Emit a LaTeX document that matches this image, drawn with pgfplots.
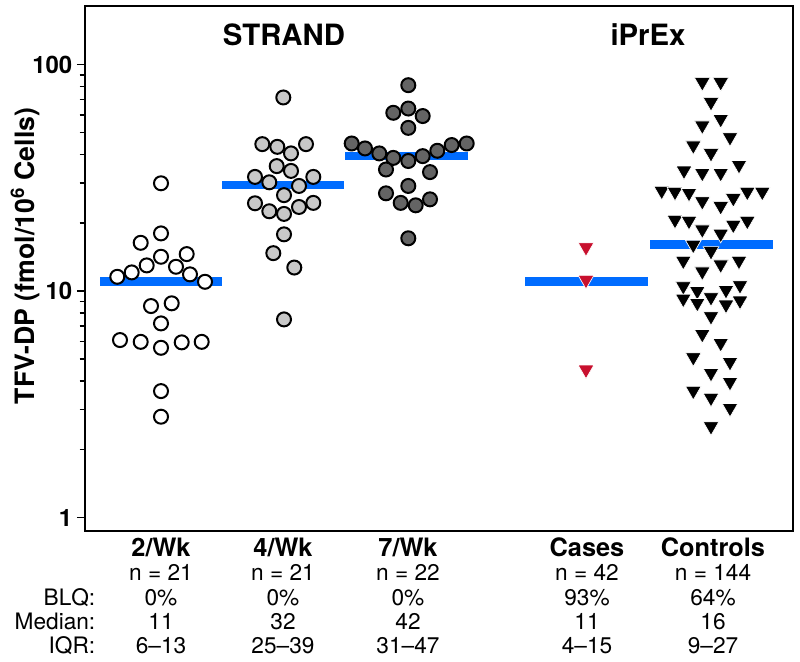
\documentclass[border=0pt]{standalone}
\usepackage{pgfplots}
\pgfplotsset{compat=1.18}
\usepackage{fontspec}
\setmainfont{TeX Gyre Heros}

\definecolor{medblue}{RGB}{0,108,255}
\definecolor{casered}{RGB}{200,16,46}
\definecolor{lgray}{RGB}{200,200,200}
\definecolor{dgray}{RGB}{100,100,100}

\begin{document}
\begin{tikzpicture}
\useasboundingbox (0,0) rectangle (600pt,495.75pt);
\begin{axis}[
    at={(63.75pt,97.7pt)}, anchor=south west,
    scale only axis,
    width=531pt, height=393.5pt,
    xmin=85, xmax=793,
    ymode=log, ymin=0.876, ymax=181,
    xtick=\empty,
    ytick={1,10,100},
    minor ytick={2,3,4,5,6,7,8,9,20,30,40,50,60,70,80,90},
    ytick pos=left,
    tick align=outside,
    major tick length=6pt,
    minor tick length=4pt,
    tick style={black, line width=1.2pt},
    axis line style={line width=1.5pt},
    log ticks with fixed point,
    /pgf/number format/assume math mode=true,
    yticklabel style={font=\bfseries\fontsize{18}{20}\selectfont},
  ]
  % median bars
  \addplot[medblue, line width=6.5pt] coordinates {(100,11.0) (222,11.0)};
  \addplot[medblue, line width=6.5pt] coordinates {(222,29.4) (344,29.4)};
  \addplot[medblue, line width=6.5pt] coordinates {(345,39.4) (468,39.4)};
  \addplot[medblue, line width=6.5pt] coordinates {(525,11.0) (648,11.0)};
  \addplot[medblue, line width=6.5pt] coordinates {(650,16.1) (773,16.1)};

  % 2/Wk
  \addplot[only marks, mark=*, mark size=5.25pt,
    mark options={fill=white, draw=black, line width=1.5pt}] coordinates {
    (161,29.9) (161,17.97) (140.7,16.33) (161,14.17) (186.7,14.56)
    (146.7,12.98) (131.7,12.09) (117.3,11.56) (176,12.80) (190,11.85)
    (205,10.99) (151,8.59) (171.7,8.83) (161,7.20) (120,6.08)
    (140.7,5.97) (161,5.62) (181.7,5.94) (201.7,5.97) (161,3.62) (161,2.79)
  };
  % 4/Wk
  \addplot[only marks, mark=*, mark size=5.25pt,
    mark options={fill=lgray, draw=black, line width=1.5pt}] coordinates {
    (283.3,71.5) (262.3,44.5) (277.3,43.3) (291,40.5) (306,44.5)
    (276.7,35.6) (291,33.9) (255,31.9) (269.3,30.2) (299,29.1)
    (313.3,31.9) (284,26.5) (255,24.4) (269.3,22.5) (284,21.9)
    (299,23.5) (313.3,24.5) (284,17.8) (273.3,14.7) (294.3,12.7) (284,7.50)
  };
  % 7/Wk
  \addplot[only marks, mark=*, mark size=5.25pt,
    mark options={fill=dgray, draw=black, line width=1.5pt}] coordinates {
    (408.3,81.0) (393.3,61.2) (408.3,63.9) (422.7,59.2) (408.3,52.5)
    (351.7,44.8) (365,42.6) (379.3,40.5) (393.3,38.7) (408.3,37.5)
    (422.7,39.4) (437.3,41.6) (451.7,44.1) (466.7,44.8) (386,34.4)
    (430,33.5) (408.3,29.1) (386,27.0) (400.7,24.5) (415.7,23.9)
    (430,25.4) (408.3,17.1)
  };
  % Cases
  \addplot[only marks, mark=triangle*, mark size=6.8pt,
    mark options={rotate=180, fill=casered, draw=white, line width=0.5pt}] coordinates {
    (586,15.6) (586,11.2) (586,4.5)
  };
  % Controls
  \addplot[only marks, mark=triangle*, mark size=6.8pt,
    mark options={rotate=180, fill=black, draw=white, line width=0.5pt}] coordinates {
    (702.3,83.5) (720.7,83.5) (711,68.2) (720.7,57.4) (702.3,53.8)
    (730,47.7) (693.3,43.9) (711,40.6) (739,36.0) (684,34.0)
    (702.3,33.2) (720.7,33.2) (661.7,27.7) (675,27.4) (689,27.1)
    (747.3,27.4) (762.3,27.4) (702.3,24.9) (720.7,23.7) (733.3,25.7)
    (675,20.6) (689,20.4) (747.3,20.4) (733.3,19.6) (702.3,18.7)
    (720.7,17.9) (693.3,16.0) (711,15.0) (683.3,13.6) (739,13.6)
    (720.7,13.1) (702.3,12.2) (683.3,10.5) (740,10.6) (697.3,10.0)
    (726,10.1) (683.3,9.25) (697.3,8.86) (711,9.38) (726,8.71)
    (740,9.07) (711,7.74) (702.3,6.46) (720.7,5.90) (693.3,5.10)
    (730,4.86) (711,4.35) (730,3.97) (693.3,3.63) (711,3.38)
    (730,3.05) (711,2.53)
  };
\end{axis}

\begin{scope}[x=0.75pt, y=-0.75pt, yshift=495.75pt]
  \node[anchor=base, font=\bfseries\fontsize{22}{26}\selectfont] at (284,46) {STRAND};
  \node[anchor=base, font=\bfseries\fontsize{22}{26}\selectfont] at (648,46) {iPrEx};
  \node[rotate=90, font=\bfseries\fontsize{20}{24}\selectfont] at (25,256)
    {TFV-DP (fmol/10\textsuperscript{6} Cells)};

  \begin{scope}[every node/.style={anchor=base, font=\fontsize{17}{20}\selectfont}]
    \foreach \x/\name/\n/\blq/\med/\iqr in {
        161/2\slash Wk/21/0/11/6--13,
        283/4\slash Wk/21/0/32/25--39,
        408/7\slash Wk/22/0/42/31--47,
        587/Cases/42/93/11/4--15,
        713/Controls/144/64/16/9--27} {
      \node[font=\bfseries\fontsize{19}{22}\selectfont] at (\x,557) {\name};
      \node at (\x,581) {n = \n};
      \node at (\x,605) {\blq\%};
      \node at (\x,629) {\med};
      \node at (\x,653) {\iqr};
    }
    \node[anchor=base east] at (100,605) {BLQ:};
    \node[anchor=base east] at (100,629) {Median:};
    \node[anchor=base east] at (100,653) {IQR:};
  \end{scope}
\end{scope}
\end{tikzpicture}
\end{document}
